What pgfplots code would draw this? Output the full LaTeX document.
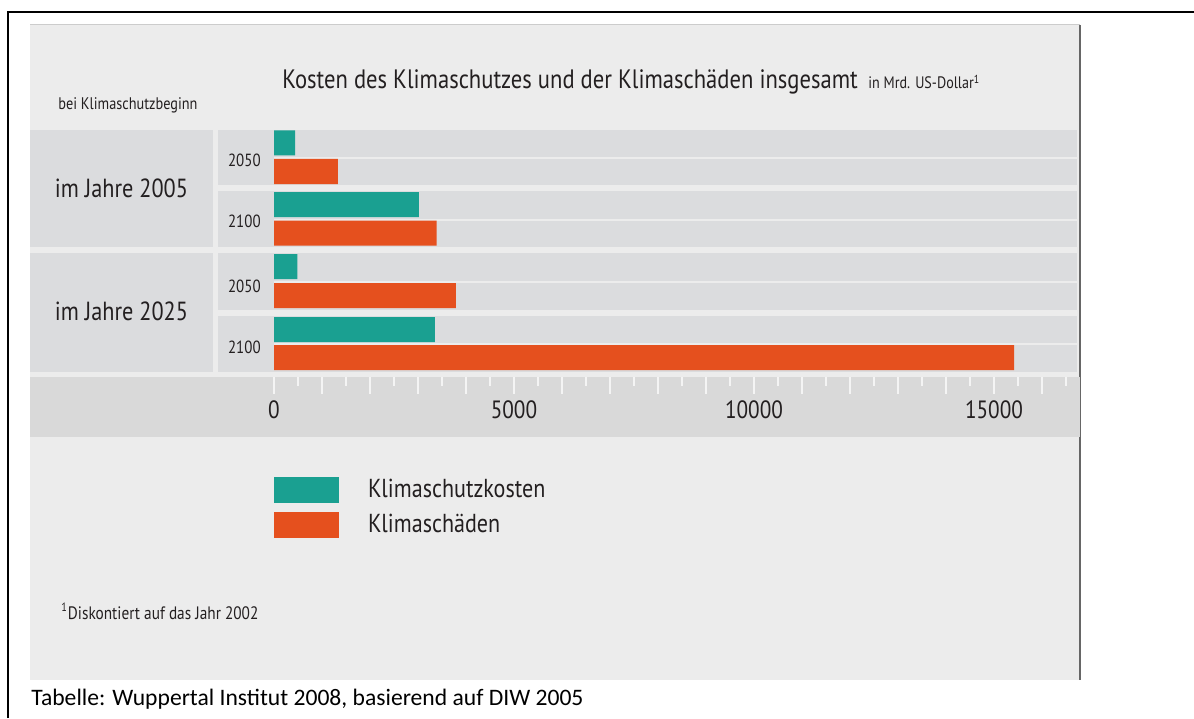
\documentclass[border=0pt]{standalone}
\usepackage{fontspec}
\setmainfont{PT Sans}[FakeStretch=0.85]
\newfontfamily\capfont{Carlito}
\usepackage{pgfplots}
\pgfplotsset{compat=1.18}
\definecolor{tealbar}{HTML}{1AA091}
\definecolor{orangebar}{HTML}{E5501E}
\definecolor{panelbg}{HTML}{ECECEC}
\definecolor{stripe}{HTML}{DBDCDE}
\definecolor{band}{HTML}{D9D9D9}
\definecolor{txt}{HTML}{231F20}
\definecolor{tickc}{HTML}{F4F4F4}

\begin{document}
\begin{tikzpicture}
\path[use as bounding box] (0,0) rectangle (597pt,359pt);
\begin{scope}[x=0.5pt,y=-0.5pt,shift={(0pt,359pt)}]
  % panel
  \fill[panelbg] (30,25) rectangle (1080,680);
  \draw[black!20, line width=0.5pt] (30,25) -- (1080,25);
  \draw[black!60, line width=0.8pt] (1080,25) -- (1080,680);
  % outer frame
  \draw[black, line width=1pt] (8,718) -- (8,12) -- (1194,12);
  % group cells
  \fill[stripe] (30,130) rectangle (213,247);
  \fill[stripe] (30,253) rectangle (213,372);
  % year cells
  \fill[stripe] (218,130) rectangle (274,185);
  \fill[stripe] (218,191) rectangle (274,247);
  \fill[stripe] (218,253) rectangle (274,310);
  \fill[stripe] (218,316) rectangle (274,372);
  % bar stripes
  \fill[stripe] (274,130) rectangle (1077,157);
  \fill[stripe] (274,159) rectangle (1077,185);
  \fill[stripe] (274,191) rectangle (1077,219);
  \fill[stripe] (274,221) rectangle (1077,247);
  \fill[stripe] (274,253) rectangle (1077,281);
  \fill[stripe] (274,283) rectangle (1077,310);
  \fill[stripe] (274,316) rectangle (1077,343);
  \fill[stripe] (274,345) rectangle (1077,372);
  % axis band
  \fill[band] (30,377) rectangle (1080,437);
  % texts
  \node[anchor=base west, font=\fontsize{13.3}{15}\selectfont, text=txt, inner sep=0pt] at (282,89) {Kosten des Klimaschutzes und der Klimaschäden insgesamt};
  \node[anchor=base west, font=\fontsize{8.3}{9}\selectfont, text=txt, inner sep=0pt] at (868,89) {in Mrd. US-Dollar\textsuperscript{1}};
  \node[anchor=base west, font=\fontsize{8.4}{9}\selectfont, text=txt, inner sep=0pt] at (58,110) {bei Klimaschutzbeginn};
  \node[anchor=base, font=\fontsize{13.1}{15}\selectfont, text=txt, inner sep=0pt] at (121.5,198) {im Jahre 2005};
  \node[anchor=base, font=\fontsize{13.1}{15}\selectfont, text=txt, inner sep=0pt] at (121.5,321) {im Jahre 2025};
  \node[anchor=base west, font=\fontsize{9}{10}\selectfont, text=txt, inner sep=0pt] at (61,619) {\textsuperscript{1}Diskontiert auf das Jahr 2002};
  \node[anchor=base west, font=\capfont\fontsize{11.8}{14}\selectfont, text=black, inner sep=0pt] at (31,705) {Tabelle: Wuppertal Institut 2008, basierend auf DIW 2005};
\end{scope}

\begin{axis}[
  at={(137pt,170.5pt)}, anchor=south west,
  scale only axis, width=401.5pt, height=123.5pt,
  xmin=0, xmax=16730, ymin=130, ymax=377, y dir=reverse,
  axis line style={draw=none},
  scaled x ticks=false,
  xtick={0,1000,...,16000},
  xticklabels={0,,,,,5000,,,,,10000,,,,,15000,},
  minor xtick={500,1500,...,16500},
  xtick pos=bottom, ytick pos=left, tick align=outside,
  major tick length=8.5pt, minor tick length=4.5pt,
  tick style={draw=tickc, line width=1pt},
  ytick={160,221,286,347}, yticklabels={2050,2100,2050,2100},
  ytick style={draw=none},
  /pgf/number format/assume math mode=true,
  xticklabel style={anchor=center, yshift=-7.8pt, font=\fontsize{12.5}{14}\selectfont, text=txt},
  yticklabel style={anchor=center, xshift=-6.3pt, font=\fontsize{8.8}{10}\selectfont, text=txt},
  legend style={at={(0,-0.405)}, anchor=north west, draw=none, fill=none,
    inner sep=0pt, outer sep=0pt, row sep=4.9pt,
    font=\fontsize{13}{15}\selectfont,
    nodes={inner sep=0pt, anchor=west, text=txt},
    /tikz/every odd column/.append style={column sep=14.5pt}},
  legend cell align=left,
  legend image code/.code={\fill[#1] (0pt,-6.4pt) rectangle (32.5pt,6.4pt);},
  clip=false,
]
\addplot[xbar, bar width=25, bar shift=0pt, fill=tealbar, draw=none]
  coordinates {(440,143) (3020,204.5) (485,266.5) (3350,329.5)};
\addlegendentry{Klimaschutzkosten}
\addplot[xbar, bar width=25, bar shift=0pt, fill=orangebar, draw=none]
  coordinates {(1330,171.5) (3390,233) (3790,295.5) (15420,357.5)};
\addlegendentry{Klimaschäden}
\end{axis}
\end{tikzpicture}
\end{document}
